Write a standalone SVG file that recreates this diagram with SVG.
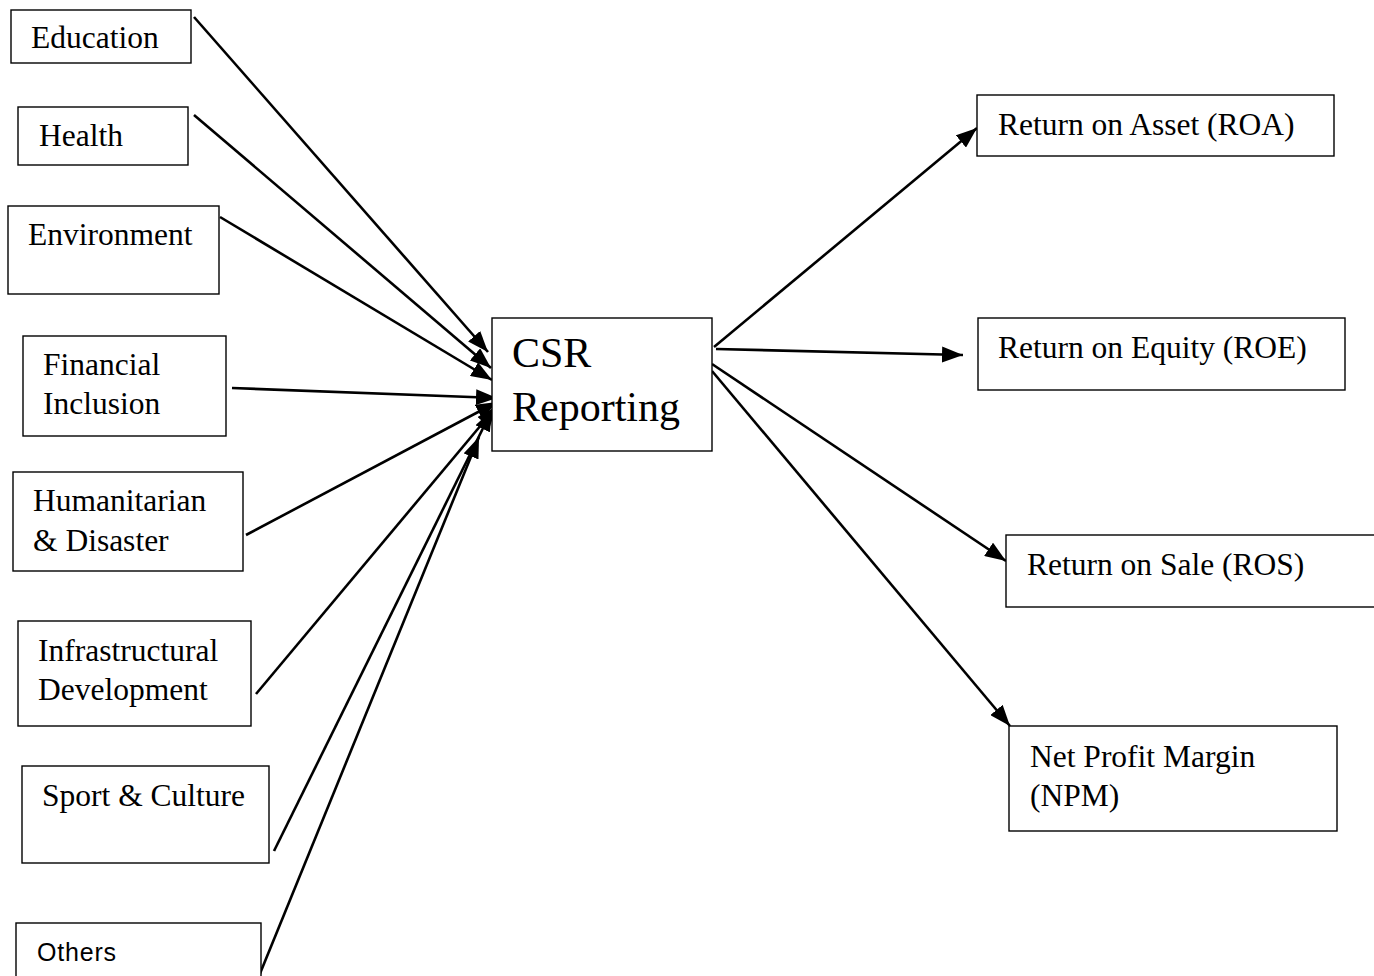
<svg xmlns="http://www.w3.org/2000/svg" width="1374" height="976" viewBox="0 0 1374 976">
<style>
.box{fill:#fff;stroke:#000;stroke-width:1.4}
.t{font-family:"Liberation Serif","Times New Roman",serif;font-size:31.5px;fill:#000}
.big{font-family:"Liberation Serif","Times New Roman",serif;font-size:42px;fill:#000}
.s{font-family:"Liberation Sans",Arial,sans-serif;font-size:25px;fill:#000}
.c{stroke:#000;stroke-width:2.6;fill:none;marker-end:url(#ah)}
</style>
<defs>
<marker id="ah" markerUnits="userSpaceOnUse" markerWidth="22" markerHeight="16" refX="21" refY="8" orient="auto">
<path d="M0,0 L21,8 L0,16 z" fill="#000"/>
</marker>
</defs>
<rect width="1374" height="976" fill="#fff"/>
<g id="connectors">
<line class="c" x1="194" y1="17" x2="488" y2="352"/>
<line class="c" x1="194" y1="115" x2="491" y2="368"/>
<line class="c" x1="220" y1="217" x2="492" y2="380"/>
<line class="c" x1="232" y1="388" x2="497" y2="398"/>
<line class="c" x1="246" y1="535" x2="497" y2="402"/>
<line class="c" x1="256" y1="694" x2="497" y2="406"/>
<line class="c" x1="274" y1="851" x2="492" y2="410"/>
<line class="c" x1="259" y1="976" x2="479" y2="437"/>
<line class="c" x1="714" y1="347" x2="977" y2="128"/>
<line class="c" x1="716" y1="349" x2="963" y2="355"/>
<line class="c" x1="712" y1="364" x2="1006" y2="561"/>
<line class="c" x1="712" y1="371" x2="1010" y2="726"/>
</g>
<g id="education"><rect class="box" x="11" y="10" width="180" height="53"/><text class="t" x="31" y="48">Education</text></g>
<g id="health"><rect class="box" x="18" y="107" width="170" height="58"/><text class="t" x="39" y="146">Health</text></g>
<g id="environment"><rect class="box" x="8" y="206" width="211" height="88"/><text class="t" x="28" y="245">Environment</text></g>
<g id="financial"><rect class="box" x="23" y="336" width="203" height="100"/><text class="t" x="43" y="375">Financial</text><text class="t" x="43" y="414">Inclusion</text></g>
<g id="humanitarian"><rect class="box" x="13" y="472" width="230" height="99"/><text class="t" x="33" y="511">Humanitarian</text><text class="t" x="33" y="551">&amp; Disaster</text></g>
<g id="infrastructure"><rect class="box" x="18" y="621" width="233" height="105"/><text class="t" x="38" y="661">Infrastructural</text><text class="t" x="38" y="700">Development</text></g>
<g id="sport"><rect class="box" x="22" y="766" width="247" height="97"/><text class="t" x="42" y="806">Sport &amp; Culture</text></g>
<g id="others"><rect class="box" x="16" y="923" width="245" height="60"/><text class="s" x="37" y="961" textLength="79">Others</text></g>
<g id="csr"><rect class="box" x="492" y="318" width="220" height="133"/><text class="big" x="512" y="367">CSR</text><text class="big" x="512" y="421">Reporting</text></g>
<g id="roa"><rect class="box" x="977" y="95" width="357" height="61"/><text class="t" x="998" y="135">Return on Asset (ROA)</text></g>
<g id="roe"><rect class="box" x="978" y="318" width="367" height="72"/><text class="t" x="998" y="358">Return on Equity (ROE)</text></g>
<g id="ros"><rect class="box" x="1006" y="535" width="370" height="72"/><text class="t" x="1027" y="575">Return on Sale (ROS)</text></g>
<g id="npm"><rect class="box" x="1009" y="726" width="328" height="105"/><text class="t" x="1030" y="767">Net Profit Margin</text><text class="t" x="1030" y="806">(NPM)</text></g>
</svg>
